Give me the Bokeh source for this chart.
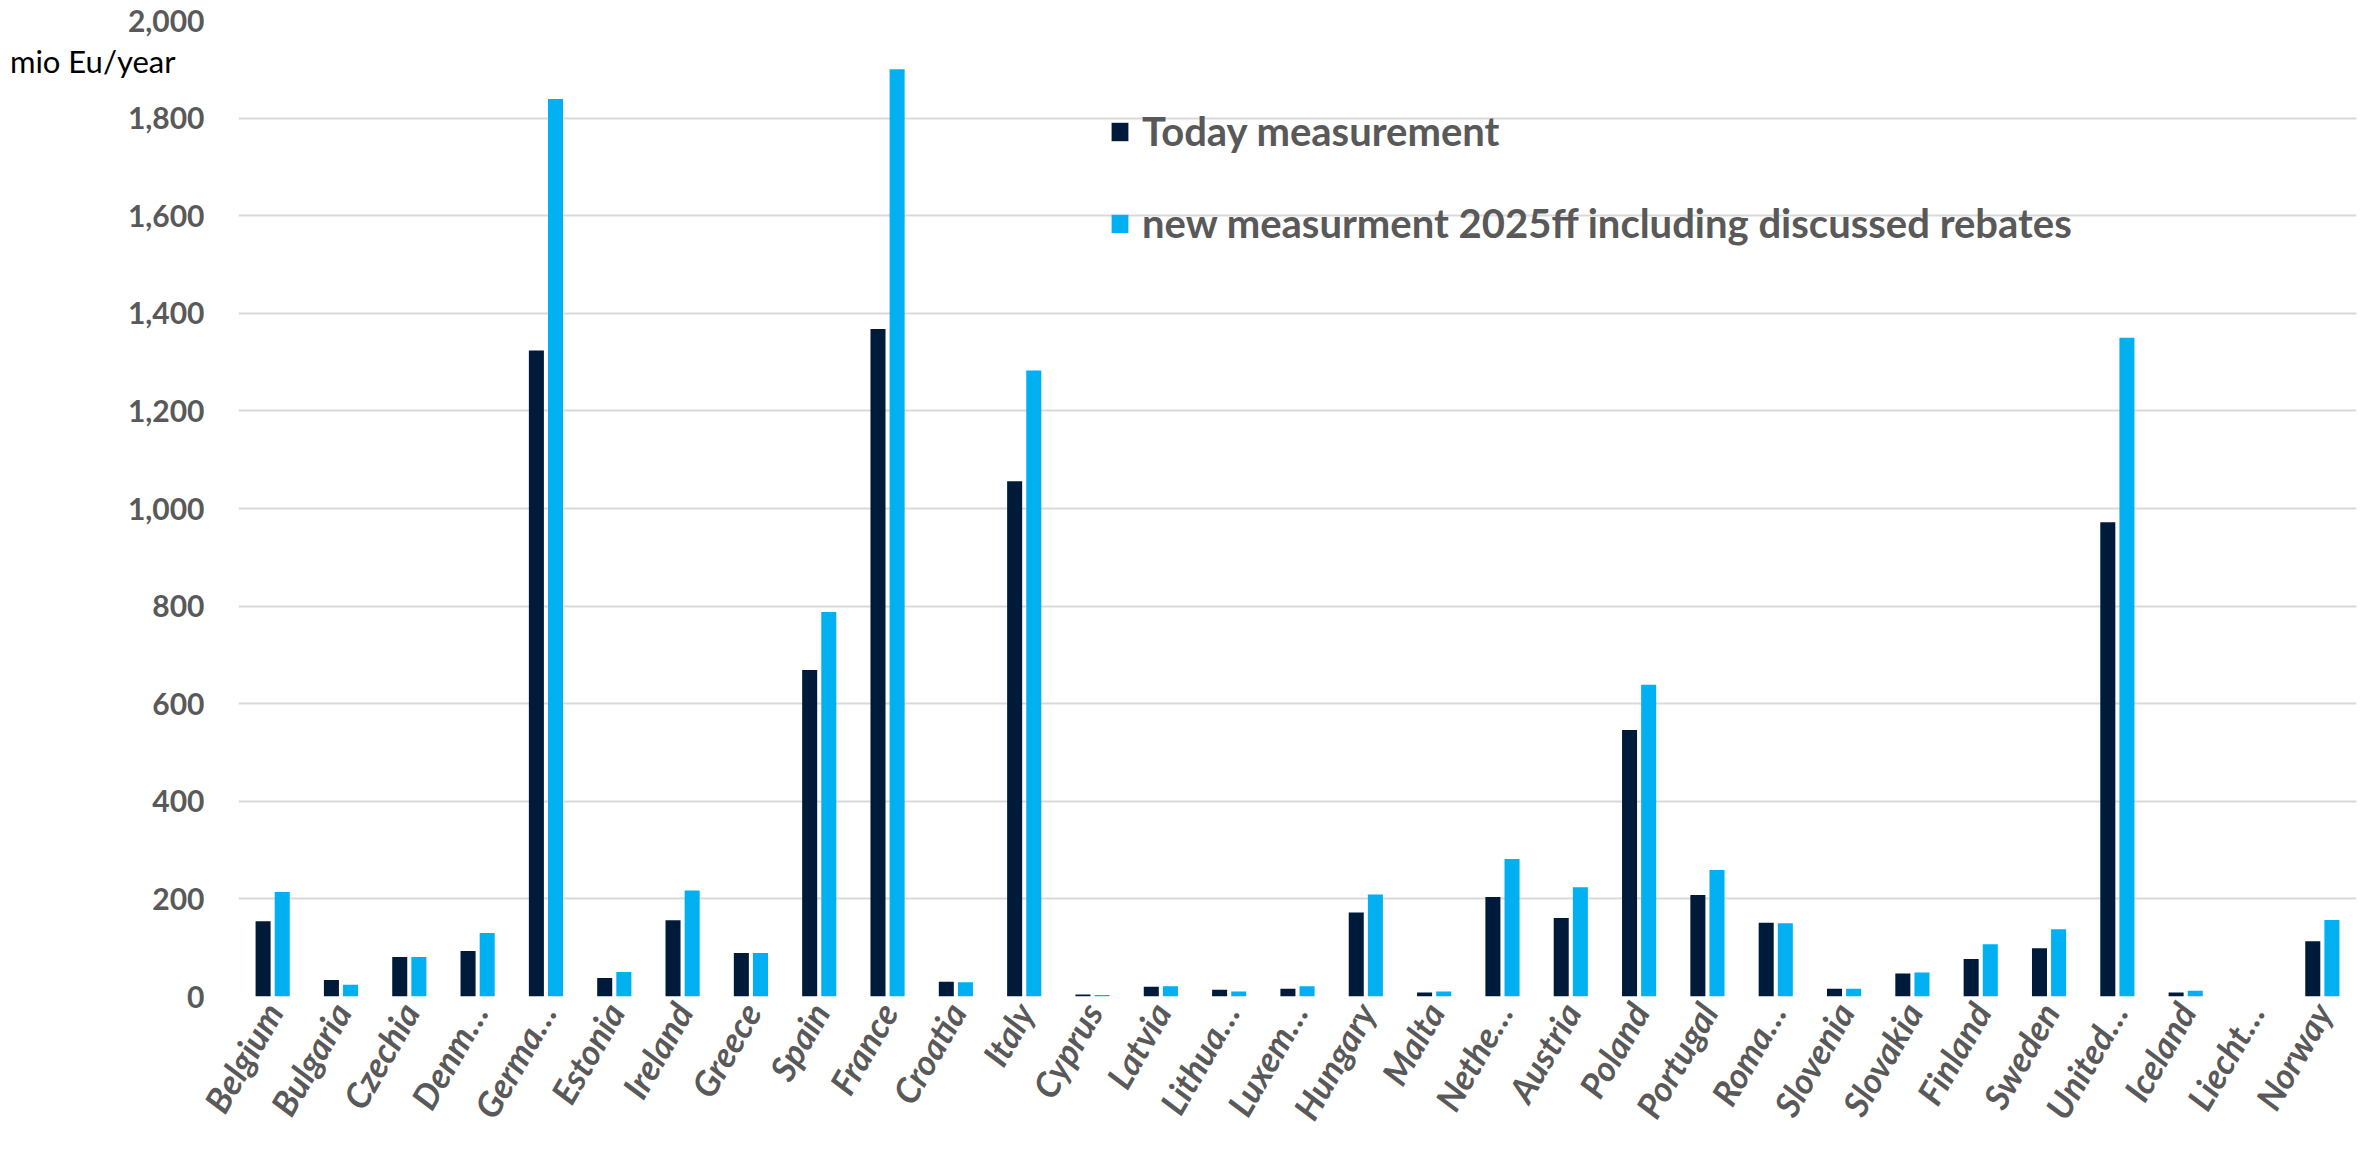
import math
from bokeh.plotting import figure
from bokeh.models import (FactorRange, ColumnDataSource, FixedTicker, NumeralTickFormatter,
                          Legend, LegendItem, LinearAxis)
from bokeh.transform import dodge
from bokeh.embed import file_html
from bokeh.resources import INLINE

countries = ["Belgium", "Bulgaria", "Czechia", "Denm…", "Germa…", "Estonia", "Ireland", "Greece",
             "Spain", "France", "Croatia", "Italy", "Cyprus", "Latvia", "Lithua…", "Luxem…",
             "Hungary", "Malta", "Nethe…", "Austria", "Poland", "Portugal", "Roma…", "Slovenia",
             "Slovakia", "Finland", "Sweden", "United…", "Iceland", "Liecht…", "Norway"]
today = [154, 34, 81, 93, 1324, 38, 156, 89, 669, 1368, 30, 1056, 4, 20, 14, 16,
         172, 8, 204, 161, 546, 208, 151, 16, 47, 77, 99, 972, 8, 0, 113]
new_measure = [214, 24, 81, 130, 1839, 50, 217, 89, 788, 1900, 29, 1283, 3, 21, 10, 21,
               209, 10, 282, 224, 639, 259, 150, 16, 49, 107, 138, 1350, 12, 0, 157]
y_ticks = list(range(0, 2001, 200))
series_names = ["Today measurement", "new measurment 2025ff including discussed rebates"]
unit_label = "mio Eu/year"
unit_label_at = 1918

DARK = "#001B3A"
LIGHT = "#00B0F0"
GRAY = "#595959"
FONT = "Lato"

src = ColumnDataSource(dict(country=countries, today=today, new=new_measure))

p = figure(x_range=FactorRange(*countries), y_range=(0, 2000),
           width=2358, height=1139, output_backend="svg", toolbar_location=None,
           min_border_left=238, min_border_top=20, min_border_bottom=140, min_border_right=2)
p.outline_line_color = None
p.background_fill_color = "white"

r1 = p.vbar(x=dodge("country", -0.14, range=p.x_range), top="today", width=0.22,
            source=src, fill_color=DARK, line_color=None)
r2 = p.vbar(x=dodge("country", 0.14, range=p.x_range), top="new", width=0.22,
            source=src, fill_color=LIGHT, line_color=None)

p.xgrid.grid_line_color = None
p.ygrid.grid_line_color = "#D9D9D9"
p.ygrid.grid_line_width = 2
p.yaxis.ticker = FixedTicker(ticks=y_ticks)
p.yaxis.formatter = NumeralTickFormatter(format="0,0")

for ax in (p.xaxis, p.yaxis):
    ax.axis_line_color = None
    ax.major_tick_line_color = None
    ax.minor_tick_line_color = None
    ax.major_tick_out = 0
    ax.minor_tick_out = 0
    ax.major_label_text_color = GRAY
    ax.major_label_text_font = FONT

p.yaxis.major_label_text_font_size = "30px"
p.yaxis.major_label_text_font_style = "bold"
p.yaxis.major_label_standoff = 34
p.xaxis.major_label_text_font_size = "35px"
p.xaxis.major_label_text_font_style = "bold italic"
p.xaxis.major_label_orientation = math.pi / 3
p.xaxis.major_label_standoff = 9

# unit text, drawn as an outer left axis with a single labelled tick
unit_axis = LinearAxis(ticker=FixedTicker(ticks=[unit_label_at]),
                       major_label_overrides={unit_label_at: unit_label},
                       axis_line_color=None, major_tick_line_color=None,
                       minor_tick_line_color=None, major_tick_out=0, minor_tick_out=0,
                       major_label_text_font=FONT, major_label_text_font_size="31px",
                       major_label_text_color="black", major_label_standoff=-51)
p.add_layout(unit_axis, "left")

for i, (r, name) in enumerate(zip([r1, r2], series_names)):
    lg = Legend(items=[LegendItem(label=name, renderers=[r])],
                location=(871, 841 - i * 92), orientation="vertical",
                border_line_color=None, background_fill_alpha=0, padding=0, margin=0,
                glyph_width=21, glyph_height=23, label_standoff=12,
                label_text_font=FONT, label_text_font_style="bold",
                label_text_font_size="40px", label_text_color=GRAY, label_height=23)
    p.add_layout(lg)

open("out.html", "w").write(file_html(p, INLINE))
